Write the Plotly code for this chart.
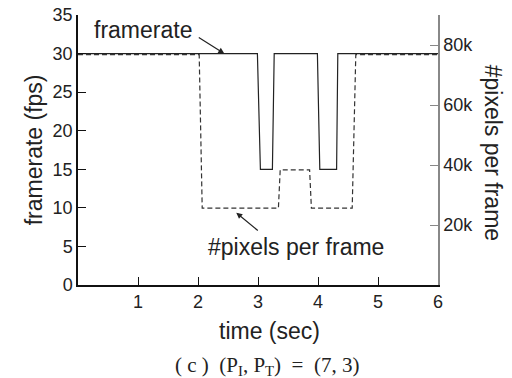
import plotly.graph_objects as go

# Data
time_fps = [0, 2.99, 3.04, 3.24, 3.27, 3.99, 4.03, 4.31, 4.33, 6]
framerate = [30, 30, 15, 15, 30, 30, 15, 15, 30, 30]
time_px = [0, 2.02, 2.07, 3.34, 3.37, 3.86, 3.89, 4.57, 4.63, 6]
pixels = [76800, 76800, 25600, 25600, 38400, 38400, 25600, 25600, 76800, 76800]

x_ticks = [1, 2, 3, 4, 5, 6]
y_ticks = [0, 5, 10, 15, 20, 25, 30, 35]
y2_ticks = [20000, 40000, 60000, 80000, 90000]
y2_labels = ["20k", "40k", "60k", "80k", ""]

W, H = 512, 378
L, R, T, B = 77.7, 437.7, 15, 285


def px(x):
    return (x - L) / (R - L)


def py(y):
    return (B - y) / (B - T)


SANS = "Liberation Sans, Arial, Helvetica, sans-serif"

fig = go.Figure()
fig.add_trace(go.Scatter(x=time_px, y=pixels, mode="lines", yaxis="y2",
                         line=dict(color="#333333", width=1.2, dash="5px,3px"),
                         showlegend=False, hoverinfo="skip"))
fig.add_trace(go.Scatter(x=time_fps, y=framerate, mode="lines", yaxis="y",
                         line=dict(color="#222222", width=1.2),
                         showlegend=False, hoverinfo="skip"))

axis_common = dict(showgrid=False, zeroline=False, ticks="inside", ticklen=8,
                   tickwidth=1.2, automargin=False,
                   tickfont=dict(family=SANS, size=18, color="#222"))

fig.update_layout(
    width=W, height=H,
    margin=dict(l=L, r=W - R, t=T, b=H - B, pad=0, autoexpand=False),
    paper_bgcolor="white", plot_bgcolor="white",
    xaxis=dict(range=[0, 6], tickvals=x_ticks, showline=True, linecolor="#111",
               linewidth=1.5, tickcolor="#111", **axis_common),
    yaxis=dict(range=[0, 35], tickvals=y_ticks, showline=True, linecolor="#111",
               linewidth=1.5, tickcolor="#111", **axis_common),
    yaxis2=dict(range=[0, 90000], tickvals=y2_ticks, ticktext=y2_labels,
                overlaying="y", side="right", showline=True, linecolor="#888",
                linewidth=1.5, tickcolor="#888", **axis_common),
)

ann = []
# Axis titles
ann.append(dict(text="framerate (fps)", xref="paper", yref="paper", x=px(34), y=py(150),
                textangle=-90, showarrow=False, xanchor="center", yanchor="middle",
                font=dict(family=SANS, size=23, color="#222")))
ann.append(dict(text="#pixels per frame", xref="paper", yref="paper", x=px(493), y=py(153),
                textangle=90, showarrow=False, xanchor="center", yanchor="middle",
                font=dict(family=SANS, size=23, color="#222")))
ann.append(dict(text="time (sec)", xref="paper", yref="paper", x=px(269), y=py(331),
                showarrow=False, xanchor="center", yanchor="middle",
                font=dict(family=SANS, size=23, color="#222")))
# Caption
ann.append(dict(text="( c )  (P<sub>I</sub>, P<sub>T</sub>)  =  (7, 3)", xref="paper", yref="paper",
                x=px(267), y=py(366), showarrow=False, xanchor="center", yanchor="middle",
                font=dict(family="Liberation Serif, Times New Roman, serif", size=21, color="#222")))
# Series labels
ann.append(dict(text="framerate", xref="paper", yref="paper", x=px(142.5), y=py(30),
                showarrow=False, xanchor="center", yanchor="middle",
                font=dict(family=SANS, size=23, color="#222")))
ann.append(dict(text="#pixels per frame", xref="paper", yref="paper", x=px(296), y=py(247),
                showarrow=False, xanchor="center", yanchor="middle",
                font=dict(family=SANS, size=23, color="#222")))
# Arrows
ann.append(dict(text="", x=2.438, y=30, xref="x", yref="y", ax=-27, ay=-17,
                showarrow=True, arrowhead=2, arrowsize=1, arrowwidth=1.2, arrowcolor="#222"))
ann.append(dict(text="", x=2.638, y=9.37, xref="x", yref="y", ax=23, ay=19,
                showarrow=True, arrowhead=2, arrowsize=1, arrowwidth=1.2, arrowcolor="#222"))

fig.update_layout(annotations=ann)
fig.write_html("out.html", config={"displayModeBar": False},
               post_script="document.body.style.margin='0';document.body.style.overflow='hidden';")
